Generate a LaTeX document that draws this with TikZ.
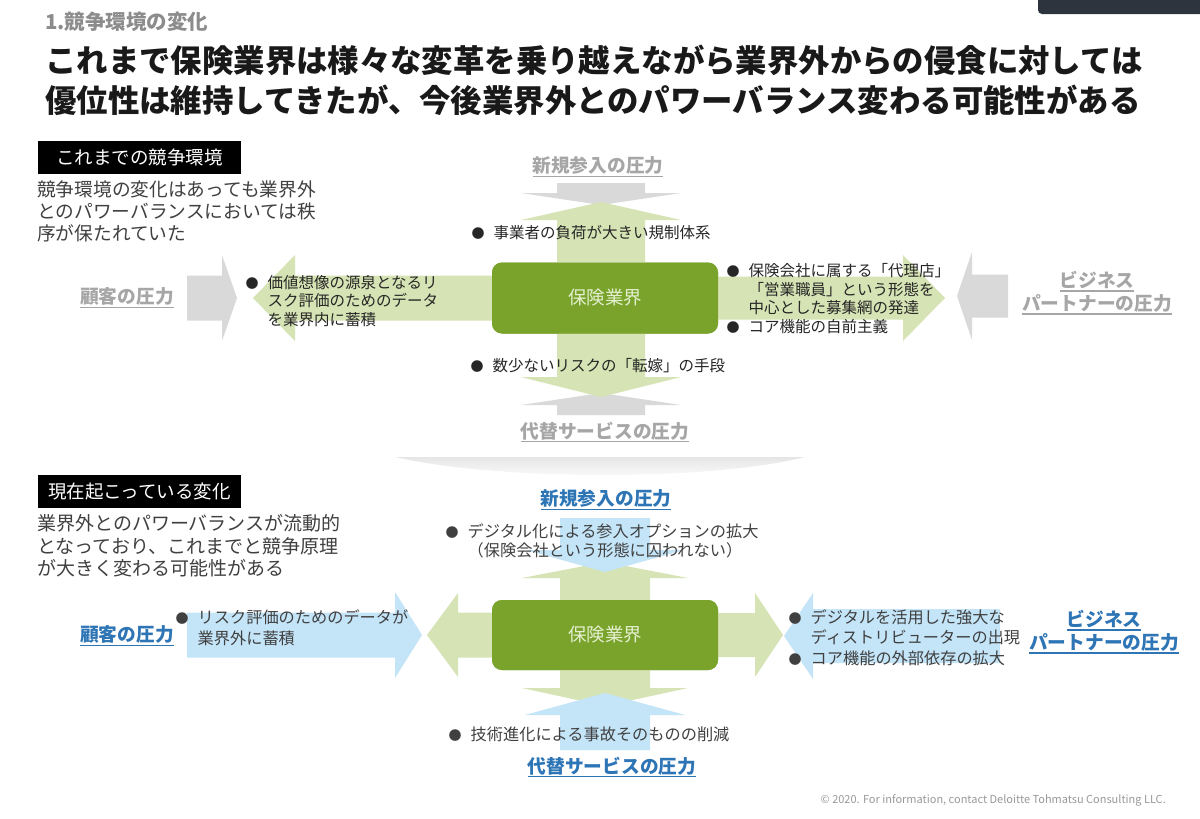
\documentclass[tikz,border=0pt]{standalone}
\usepackage{fontspec}
\setmainfont{Noto Sans CJK JP}
\usetikzlibrary{calc}

\definecolor{coregreen}{RGB}{122,163,44}
\definecolor{coretext}{RGB}{228,240,207}
\definecolor{flowgreen}{RGB}{214,227,180}
\definecolor{flowblue}{RGB}{196,228,248}
\definecolor{flowgray}{RGB}{217,217,217}
\definecolor{labelgray}{RGB}{166,166,166}
\definecolor{labelblue}{RGB}{46,117,182}
\definecolor{bodygray}{RGB}{64,64,64}
\definecolor{slate}{RGB}{45,52,62}

\newcommand{\FontAt}[2]{\fontsize{#1}{#2}\selectfont}
\newcommand{\Bul}{\makebox[22pt][l]{\FontAt{13}{13}●}}
\newcommand{\Ind}{\hspace*{22pt}}
\newcommand{\Uline}[1]{\setbox0\hbox{#1}\leavevmode\rlap{\rule[-4pt]{\wd0}{1.3pt}}\box0}

% block arrow: fill, tail, tip, shaft half width, head half width, head length
\newcommand{\BlockArrow}[6]{%
    \coordinate (ba-tail) at #2;
    \coordinate (ba-tip) at #3;
    \coordinate (ba-head) at ($(ba-tip)!#6!(ba-tail)$);
    \fill[#1] ($(ba-tail)!#4!90:(ba-tip)$) -- ($(ba-head)!#4!90:(ba-tip)$)
        -- ($(ba-head)!#5!90:(ba-tip)$) -- (ba-tip)
        -- ($(ba-head)!#5!-90:(ba-tip)$) -- ($(ba-head)!#4!-90:(ba-tip)$)
        -- ($(ba-tail)!#4!-90:(ba-tip)$) -- cycle;
}

\tikzset{
    pressure/.style={font=\bfseries\FontAt{18.7}{23}, inner sep=0pt, align=center},
    oldpressure/.style={pressure, text=labelgray},
    newpressure/.style={pressure, text=labelblue},
    core/.style={fill=coregreen, rounded corners=10pt, minimum width=226pt,
        minimum height=71pt, text=coretext, font=\FontAt{18.5}{22}},
    headbox/.style={fill=black, text=white, minimum width=203pt,
        minimum height=33pt, inner sep=0pt, font=\FontAt{18.5}{22}},
    note/.style={anchor=north west, align=left, inner sep=0pt, text=bodygray},
    point/.style={anchor=north west, align=left, inner sep=0pt, text=black!85},
}

\begin{document}
\begin{tikzpicture}[x=1pt, y=-1pt]
    \useasboundingbox (0,0) rectangle (1200,819);
    \fill[white] (0,0) rectangle (1200,819);
    \fill[slate, rounded corners=4pt] (1038,-6) rectangle (1206,14);

    % Heading
    \node[anchor=west, inner sep=0pt, text=black!45, font=\bfseries\FontAt{20.5}{24}] (subtitle) at (45,22) {1.競争環境の変化};
    \node[anchor=north west, inner sep=0pt, align=left, text=black!90,
        font=\bfseries\FontAt{31.4}{40}] (title) at (45,44.3)
        {これまで保険業界は様々な変革を乗り越えながら業界外からの侵食に対しては\\
         優位性は維持してきたが、今後業界外とのパワーバランス変わる可能性がある};

    % ---- Top diagram: the balance so far ----
    \node[headbox] (t-head) at (139.5,157.5) {これまでの競争環境};
    \node[note, font=\FontAt{18.7}{22}] (t-note) at (37,181)
        {競争環境の変化はあっても業界外\\とのパワーバランスにおいては秩\\序が保たれていた};

    \node[core] (core1) at (605,298) {};
    \coordinate (t-n-tail) at (601,183);   % new entrants
    \coordinate (t-n-tip)  at (601,205);
    \coordinate (t-s-tail) at (601,415);   % substitutes
    \coordinate (t-s-tip)  at (601,393);
    \coordinate (t-w-tail) at (187,298);   % customers
    \coordinate (t-w-tip)  at (237,298);
    \coordinate (t-e-tail) at (1008,296);  % business partners
    \coordinate (t-e-tip)  at (957,296);
    \coordinate (t-up)    at (601,202);
    \coordinate (t-down)  at (601,397);
    \coordinate (t-left)  at (253,298);
    \coordinate (t-right) at (945,298);

    \BlockArrow{flowgray}{(t-n-tail)}{(t-n-tip)}{44pt}{80pt}{12pt}
    \BlockArrow{flowgray}{(t-s-tail)}{(t-s-tip)}{44pt}{80pt}{12pt}
    \BlockArrow{flowgray}{(t-w-tail)}{(t-w-tip)}{22.5pt}{43pt}{15pt}
    \BlockArrow{flowgray}{(t-e-tail)}{(t-e-tip)}{21.5pt}{44pt}{15pt}
    \BlockArrow{flowgreen}{(t-up |- core1.north)}{(t-up)}{44pt}{80pt}{18pt}
    \BlockArrow{flowgreen}{(t-down |- core1.south)}{(t-down)}{44pt}{80pt}{20pt}
    \BlockArrow{flowgreen}{(core1.west)}{(t-left)}{22.5pt}{43pt}{42pt}
    \BlockArrow{flowgreen}{(core1.east)}{(t-right)}{21.5pt}{43pt}{42pt}
    \node[core] at (core1) {保険業界};

    \node[oldpressure] (t-entry) at (598,167) {\Uline{新規参入の圧力}};
    \node[oldpressure] (t-subst) at (605,432) {\Uline{代替サービスの圧力}};
    \node[oldpressure] (t-cust) at (127,298) {\Uline{顧客の圧力}};
    \node[oldpressure] (t-partner) at (1097,293) {\Uline{ビジネス}\\\Uline{パートナーの圧力}};

    \node[point, font=\FontAt{15.5}{18.5}] (t-up-pt) at (471.5,225) {\Bul 事業者の負荷が大きい規制体系};
    \node[point, font=\FontAt{15.5}{18.5}] (t-down-pt) at (470.5,358) {\Bul 数少ないリスクの「転嫁」の手段};
    \node[point, font=\FontAt{15.5}{18.5}] (t-left-pt) at (245.5,275)
        {\Bul 価値想像の源泉となるリ\\\Ind スク評価のためのデータ\\\Ind を業界内に蓄積};
    \node[point, font=\FontAt{15.5}{18.7}] (t-right-pt) at (726.5,263)
        {\Bul 保険会社に属する「代理店」\\\Ind 「営業職員」という形態を\\\Ind 中心とした募集網の発達\\\Bul コア機能の自前主義};

    % separator shadow
    \shade[top color=black!10, bottom color=white] (395,457) .. controls (500,481) and (710,481) .. (805,457) -- cycle;

    % ---- Bottom diagram: what is changing now ----
    \node[headbox] (b-head) at (139.5,491.5) {現在起こっている変化};
    \node[note, font=\FontAt{19}{22.5}] (b-note) at (37,514.5)
        {業界外とのパワーバランスが流動的\\となっており、これまでと競争原理\\が大きく変わる可能性がある};

    \node[core, minimum height=70pt] (core2) at (605,635) {};
    \coordinate (b-n-tail) at (605,518);
    \coordinate (b-n-tip)  at (605,572);
    \coordinate (b-s-tail) at (605,750);
    \coordinate (b-s-tip)  at (605,693);
    \coordinate (b-w-tail) at (187,635);
    \coordinate (b-w-tip)  at (422,635);
    \coordinate (b-e-tail) at (1000,636);
    \coordinate (b-e-tip)  at (784,636);
    \coordinate (b-up)    at (605,562);
    \coordinate (b-down)  at (605,706);
    \coordinate (b-left)  at (427,635);
    \coordinate (b-right) at (783,635);

    \BlockArrow{flowgreen}{(core2.north)}{(b-up)}{45pt}{83pt}{16pt}
    \BlockArrow{flowgreen}{(core2.south)}{(b-down)}{45pt}{83pt}{18pt}
    \BlockArrow{flowgreen}{(core2.west)}{(b-left)}{22.5pt}{42pt}{31pt}
    \BlockArrow{flowgreen}{(core2.east)}{(b-right)}{22pt}{42pt}{28pt}
    \BlockArrow{flowblue}{(b-n-tail)}{(b-n-tip)}{45pt}{79pt}{22pt}
    \BlockArrow{flowblue}{(b-s-tail)}{(b-s-tip)}{45pt}{80pt}{22pt}
    \BlockArrow{flowblue}{(b-w-tail)}{(b-w-tip)}{22.5pt}{43pt}{27pt}
    \BlockArrow{flowblue}{(b-e-tail)}{(b-e-tip)}{27pt}{43pt}{29pt}
    \node[core, minimum height=70pt] at (core2) {保険業界};

    \node[newpressure] (b-entry) at (606,500) {\Uline{新規参入の圧力}};
    \node[newpressure] (b-subst) at (612,767) {\Uline{代替サービスの圧力}};
    \node[newpressure] (b-cust) at (127,636) {\Uline{顧客の圧力}};
    \node[newpressure] (b-partner) at (1104,632) {\Uline{ビジネス}\\\Uline{パートナーの圧力}};

    \node[point, text=bodygray, font=\FontAt{16.2}{19.5}] (b-up-pt) at (445.5,523)
        {\Bul デジタル化による参入オプションの拡大\\\Ind （保険会社という形態に囚われない）};
    \node[point, text=bodygray, font=\FontAt{16.2}{21}] (b-left-pt) at (175.5,609)
        {\Bul リスク評価のためのデータが\\\Ind 業界外に蓄積};
    \node[point, text=bodygray, font=\FontAt{16.2}{20.5}] (b-right-pt) at (788.5,609)
        {\Bul デジタルを活用した強大な\\\Ind ディストリビューターの出現\\\Bul コア機能の外部依存の拡大};
    \node[point, text=bodygray, font=\FontAt{16.2}{19.5}] (b-down-pt) at (448.5,727)
        {\Bul 技術進化による事故そのものの削減};

    \node[anchor=east, inner sep=0pt, text=black!40, font=\FontAt{11}{13}] (footer) at (1166,800)
        {© 2020. For information, contact Deloitte Tohmatsu Consulting LLC.};
\end{tikzpicture}
\end{document}
